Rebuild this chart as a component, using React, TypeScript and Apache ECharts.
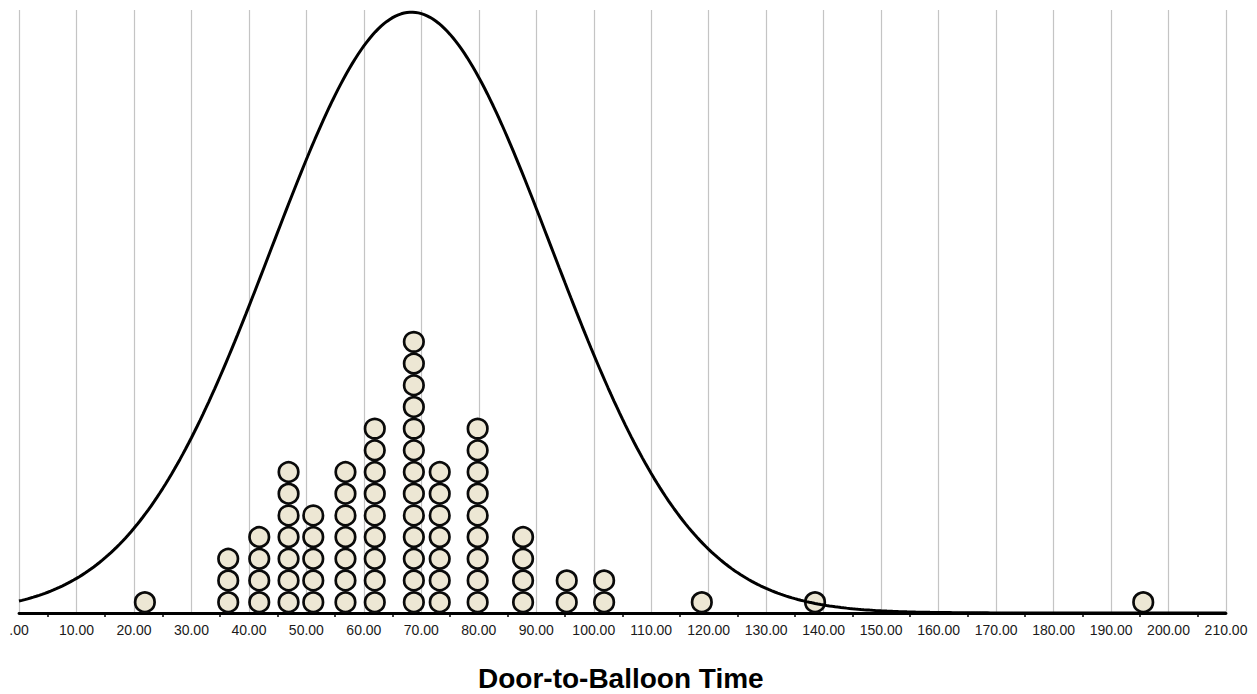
import React, { useEffect, useRef } from "react";
import * as echarts from "echarts";

// Dot-plot column positions (Door-to-Balloon Time, minutes) and number of stacked dots
const DOT_X = [21.9, 36.4, 41.8, 46.9, 51.2, 56.8, 61.9, 68.7, 73.2, 79.8, 87.7, 95.3, 101.8, 118.8, 138.5, 195.6];
const DOT_COUNTS = [1, 3, 4, 7, 5, 7, 9, 13, 7, 9, 4, 2, 2, 1, 1, 1];

// Fitted normal curve parameters
const CURVE_MEAN = 68.3;
const CURVE_SD = 24.4;
const CURVE_PEAK = 27.7; // in dot-stack units

const X_MIN = 0;
const X_MAX = 210;
const X_INTERVAL = 10;

const FONT = "Arial, 'Liberation Sans', Helvetica, sans-serif";

export default function App() {
  const ref = useRef<HTMLDivElement>(null);

  useEffect(() => {
    if (!ref.current) return;
    const chart = echarts.init(ref.current, undefined, { renderer: "svg" });

    const dots: number[][] = [];
    DOT_X.forEach((x, i) => {
      for (let k = 0; k < DOT_COUNTS[i]; k++) dots.push([x, k + 0.5]);
    });

    const curve: number[][] = [];
    for (let x = X_MIN; x <= X_MAX; x += 0.5) {
      const z = (x - CURVE_MEAN) / CURVE_SD;
      curve.push([x, CURVE_PEAK * Math.exp(-0.5 * z * z)]);
    }

    chart.setOption({
      animation: false,
      backgroundColor: "#ffffff",
      grid: { left: 19, right: 31, top: 10, bottom: 81, containLabel: false },
      title: {
        text: "Door-to-Balloon Time",
        left: 473,
        top: 659,
        textStyle: { fontFamily: FONT, fontSize: 28, fontWeight: "bold", color: "#000" },
      },
      xAxis: {
        type: "value",
        min: X_MIN,
        max: X_MAX,
        interval: X_INTERVAL,
        axisLine: { show: true, lineStyle: { color: "#000", width: 2.8 } },
        axisTick: { show: false },
        minorTick: { show: true, splitNumber: 2, length: 4, lineStyle: { color: "#000", width: 1.5 } },
        splitLine: { show: true, lineStyle: { color: "#c4c4c4", width: 1.2 } },
        axisLabel: {
          margin: 10,
          fontFamily: FONT,
          fontSize: 14,
          color: "#1a1a1a",
          formatter: (v: number) => (v === 0 ? ".00" : v.toFixed(2)),
        },
      },
      yAxis: {
        type: "value",
        min: 0,
        max: 27.8,
        show: false,
        splitLine: { show: false },
      },
      series: [
        {
          type: "scatter",
          data: dots,
          symbol: "circle",
          symbolSize: 19.5,
          itemStyle: { color: "#EDE7D4", borderColor: "#0a0a0a", borderWidth: 2.7, opacity: 1 },
          z: 3,
        },
        {
          type: "line",
          data: curve,
          showSymbol: false,
          smooth: false,
          lineStyle: { color: "#000", width: 3 },
          z: 4,
        },
      ],
    });

    return () => chart.dispose();
  }, []);

  return (
    <div
      ref={ref}
      style={{ position: "fixed", left: 0, top: 0, width: 1257, height: 694 }}
    />
  );
}
